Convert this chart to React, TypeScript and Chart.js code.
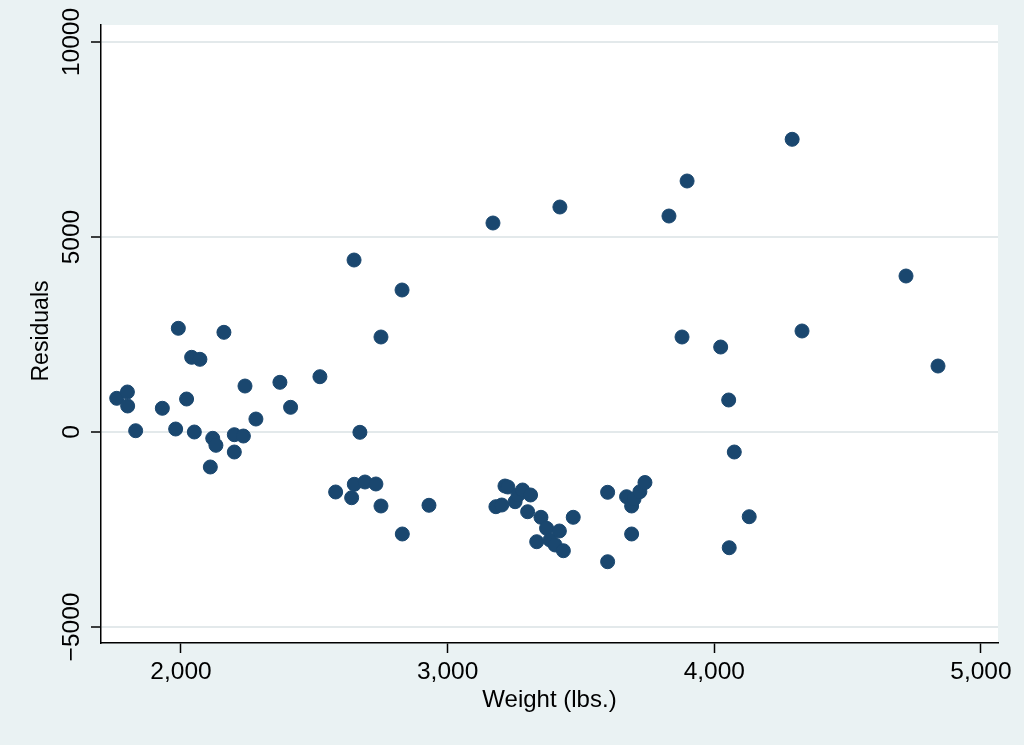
import React, { useEffect, useRef } from "react";
import { Chart, registerables } from "chart.js";

Chart.register(...registerables);

const weights: number[] = [
  1759, 1799, 1800, 1830, 1930, 1980, 1990, 2021, 2040, 2050,
  2071, 2110, 2119, 2131, 2161, 2200, 2200, 2234, 2240, 2281,
  2371, 2411, 2521, 2580, 2640, 2649, 2650, 2671, 2690, 2731,
  2750, 2750, 2830, 2829, 2930, 3170, 3181, 3203, 3215, 3226,
  3253, 3264, 3281, 3300, 3311, 3334, 3350, 3371, 3384, 3403,
  3419, 3421, 3434, 3471, 3600, 3600, 3671, 3690, 3690, 3699,
  3721, 3740, 3830, 3879, 3898, 4024, 4054, 4056, 4075, 4131,
  4292, 4329, 4719, 4839,
];

const residuals: number[] = [
  864, 1026, 667, 33, 608, 77, 2659, 846, 1915, 0,
  1864, -897, -162, -341, 2556, -69, -513, -103, 1179, 333,
  1274, 633, 1418, -1538, -1685, 4410, -1341, -8, -1282, -1333,
  2436, -1897, -2615, 3641, -1879, 5359, -1915, -1872, -1385, -1410,
  -1787, -1615, -1487, -2044, -1615, -2813, -2187, -2469, -2769, -2897,
  -2538, 5769, -3044, -2187, -3326, -1546, -1659, -2615, -1897, -1718,
  -1531, -1295, 5538, 2436, 6436, 2179, 821, -2967, -513, -2172,
  7505, 2590, 4000, 1692,
];

const xTickValues: number[] = [2000, 3000, 4000, 5000];
const xTickLabels: string[] = ["2,000", "3,000", "4,000", "5,000"];
const yTickValues: number[] = [-5000, 0, 5000, 10000];
const yTickLabels: string[] = ["\u22125000", "0", "5000", "10000"];

const xTitle = "Weight (lbs.)";
const yTitle = "Residuals";

const BG = "#EAF2F3";
const MARKER = "#1A476F";
const FONT = '"Liberation Sans", Arial, Helvetica, sans-serif';

export default function App() {
  const canvasRef = useRef<HTMLCanvasElement | null>(null);

  useEffect(() => {
    document.body.style.margin = "0";
    const canvas = canvasRef.current;
    if (!canvas) return;

    const decor = {
      id: "stataDecor",
      beforeDraw(chart: any) {
        const { ctx, chartArea } = chart;
        ctx.save();
        ctx.fillStyle = BG;
        ctx.fillRect(0, 0, chart.width, chart.height);
        ctx.fillStyle = "#ffffff";
        ctx.fillRect(
          chartArea.left,
          chartArea.top,
          chartArea.right - chartArea.left,
          chartArea.bottom - chartArea.top
        );
        ctx.restore();
      },
      afterDraw(chart: any) {
        const { ctx, chartArea } = chart;
        const xs = chart.scales.x;
        const ys = chart.scales.y;
        ctx.save();
        ctx.fillStyle = "#000000";
        ctx.font = `24.5px ${FONT}`;
        ctx.textAlign = "center";
        ctx.textBaseline = "alphabetic";
        xTickValues.forEach((v, i) => {
          ctx.fillText(xTickLabels[i], xs.getPixelForValue(v), chartArea.bottom + 36);
        });
        yTickValues.forEach((v, i) => {
          ctx.save();
          ctx.translate(chartArea.left - 22, ys.getPixelForValue(v));
          ctx.rotate(-Math.PI / 2);
          ctx.fillText(yTickLabels[i], 0, 0);
          ctx.restore();
        });
        ctx.font = `24px ${FONT}`;
        ctx.fillText(xTitle, (chartArea.left + chartArea.right) / 2, chartArea.bottom + 64);
        ctx.save();
        ctx.font = `23px ${FONT}`;
        ctx.translate(chartArea.left - 53, (chartArea.top + chartArea.bottom) / 2 - 3);
        ctx.rotate(-Math.PI / 2);
        ctx.fillText(yTitle, 0, 0);
        ctx.restore();
        ctx.restore();
      },
    };

    const chart = new Chart(canvas, {
      type: "scatter",
      data: {
        datasets: [
          {
            data: weights.map((w, i) => ({ x: w, y: residuals[i] })),
            backgroundColor: MARKER,
            borderColor: MARKER,
            borderWidth: 1,
            pointRadius: 7,
            pointHoverRadius: 7,
          },
        ],
      },
      options: {
        responsive: false,
        animation: false,
        events: [],
        layout: { padding: { top: 25, right: 26, left: 0, bottom: 0 } },
        plugins: {
          legend: { display: false },
          tooltip: { enabled: false },
          title: { display: false },
        },
        scales: {
          x: {
            type: "linear",
            position: "bottom",
            min: 1700,
            max: 5064,
            afterBuildTicks: (scale: any) => {
              scale.ticks = xTickValues.map((v) => ({ value: v }));
            },
            afterFit: (scale: any) => {
              scale.height = 102;
            },
            ticks: { display: false },
            grid: {
              drawOnChartArea: false,
              drawTicks: true,
              tickLength: 10,
              tickColor: "#000000",
              tickWidth: 1.5,
            },
            border: { display: true, color: "#000000", width: 1.5 },
          },
          y: {
            type: "linear",
            position: "left",
            min: -5410,
            max: 10436,
            afterBuildTicks: (scale: any) => {
              scale.ticks = yTickValues.map((v) => ({ value: v }));
            },
            afterFit: (scale: any) => {
              scale.width = 101;
            },
            ticks: { display: false },
            grid: {
              drawOnChartArea: true,
              color: "#e3e9eb",
              lineWidth: 2,
              drawTicks: true,
              tickLength: 10,
              tickColor: "#000000",
              tickWidth: 1.5,
            },
            border: { display: true, color: "#000000", width: 1.5 },
          },
        },
      },
      plugins: [decor],
    });

    return () => {
      chart.destroy();
    };
  }, []);

  return (
    <div
      style={{
        position: "fixed",
        left: 0,
        top: 0,
        width: 1024,
        height: 745,
        background: BG,
      }}
    >
      <canvas ref={canvasRef} width={1024} height={745} style={{ display: "block" }} />
    </div>
  );
}
